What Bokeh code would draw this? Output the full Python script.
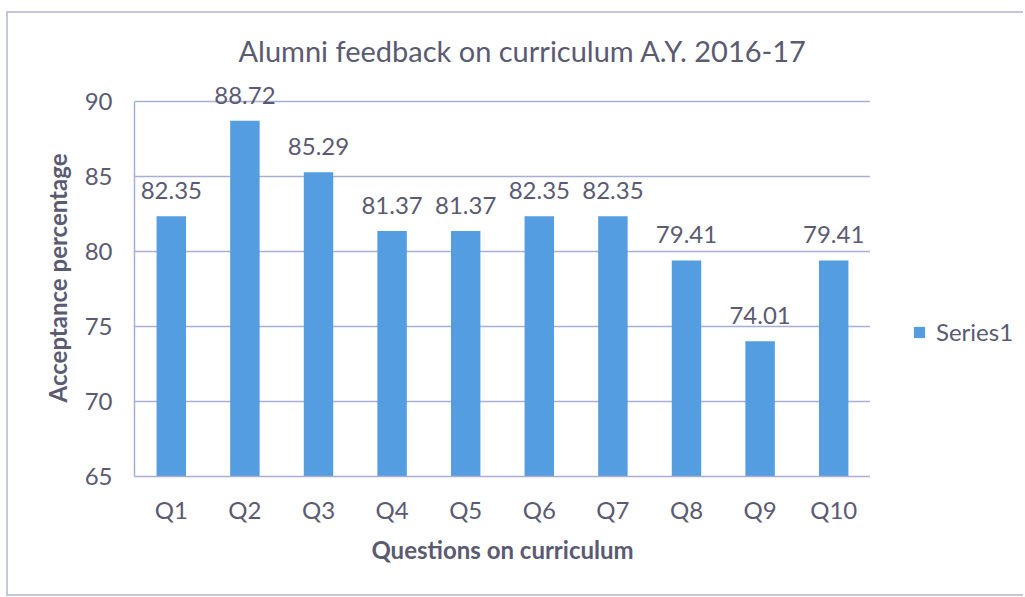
from bokeh.plotting import figure
from bokeh.models import ColumnDataSource, Legend, LegendItem, Range1d, FixedTicker
from bokeh.layouts import row
from bokeh.embed import file_html
from bokeh.resources import INLINE

categories = ["Q1", "Q2", "Q3", "Q4", "Q5", "Q6", "Q7", "Q8", "Q9", "Q10"]
values = [82.35, 88.72, 85.29, 81.37, 81.37, 82.35, 82.35, 79.41, 74.01, 79.41]
labels = ["82.35", "88.72", "85.29", "81.37", "81.37", "82.35", "82.35", "79.41", "74.01", "79.41"]
y_ticks = [65, 70, 75, 80, 85, 90]

FONT = "Lato"
TXT = "#5a5a72"
BAR = "#539de0"
GRID = "#a6aed6"
BORDER = "#c3c6dc"

src = ColumnDataSource(dict(cat=categories, val=values, lab=labels))

p = figure(width=862, height=581, x_range=categories, y_range=Range1d(65, 91.47),
           output_backend="svg", toolbar_location=None,
           title="Alumni feedback on curriculum A.Y. 2016-17",
           min_border_left=126, min_border_right=0, min_border_top=66, min_border_bottom=118)

p.title.align = "left"
p.title.text_font = FONT
p.title.text_font_size = "29px"
p.title.text_font_style = "normal"
p.title.text_color = TXT
p.title.standoff = 23
p.title.offset = 104

r = p.vbar(x="cat", top="val", bottom=65, width=0.4, source=src, fill_color=BAR, line_color=None)

p.text(x="cat", y="val", text="lab", source=src, text_align="center", text_baseline="bottom",
       y_offset=-17, text_font_size="24px", text_color=TXT, text_font={"value": FONT})

p.outline_line_color = None
p.xgrid.grid_line_color = None
p.ygrid.grid_line_color = GRID
p.ygrid.grid_line_width = 1.5
p.yaxis.ticker = FixedTicker(ticks=y_ticks)
p.yaxis.bounds = (65, 90)

for ax in (p.xaxis[0], p.yaxis[0]):
    ax.axis_line_color = GRID
    ax.axis_line_width = 1.5
    ax.major_tick_line_color = None
    ax.minor_tick_line_color = None
    ax.major_label_text_font = FONT
    ax.major_label_text_font_size = "24px"
    ax.major_label_text_color = TXT
    ax.axis_label_text_font = FONT
    ax.axis_label_text_font_size = "24px"
    ax.axis_label_text_font_style = "bold"
    ax.axis_label_text_color = TXT

p.xaxis.axis_label = "Questions on curriculum"
p.yaxis.axis_label = "Acceptance percentage"
p.xaxis.major_label_standoff = 12
p.xaxis.axis_label_standoff = 8
p.yaxis.major_label_standoff = 16
p.yaxis.axis_label_standoff = 10
p.x_range.range_padding = 0.0

# side panel holding the legend (zero-width bars out of view; only the legend swatch shows)
q = figure(width=153, height=581, x_range=categories, y_range=Range1d(0, 1),
           output_backend="svg", toolbar_location=None, x_axis_type=None, y_axis_type=None,
           min_border_left=0, min_border_right=0, min_border_top=0, min_border_bottom=0)
q.outline_line_color = None
q.xgrid.grid_line_color = None
q.ygrid.grid_line_color = None
r2 = q.vbar(x="cat", top="val", bottom=65, width=0.0, source=src, fill_color=BAR, line_color=None)
legend = Legend(items=[LegendItem(label="Series1", renderers=[r2])], location=(42, 130),
                label_text_font=FONT, label_text_font_size="24px", label_text_color=TXT,
                glyph_width=14, glyph_height=14, label_standoff=10,
                background_fill_alpha=0, border_line_color=None, padding=0, margin=0)
q.add_layout(legend)

layout = row(p, q, margin=(11, 0, 0, 6),
             styles={"border-top": f"2px solid {BORDER}", "border-left": f"2px solid {BORDER}",
                     "border-bottom": f"2px solid {BORDER}"})

open("out.html", "w").write(file_html(layout, INLINE))
